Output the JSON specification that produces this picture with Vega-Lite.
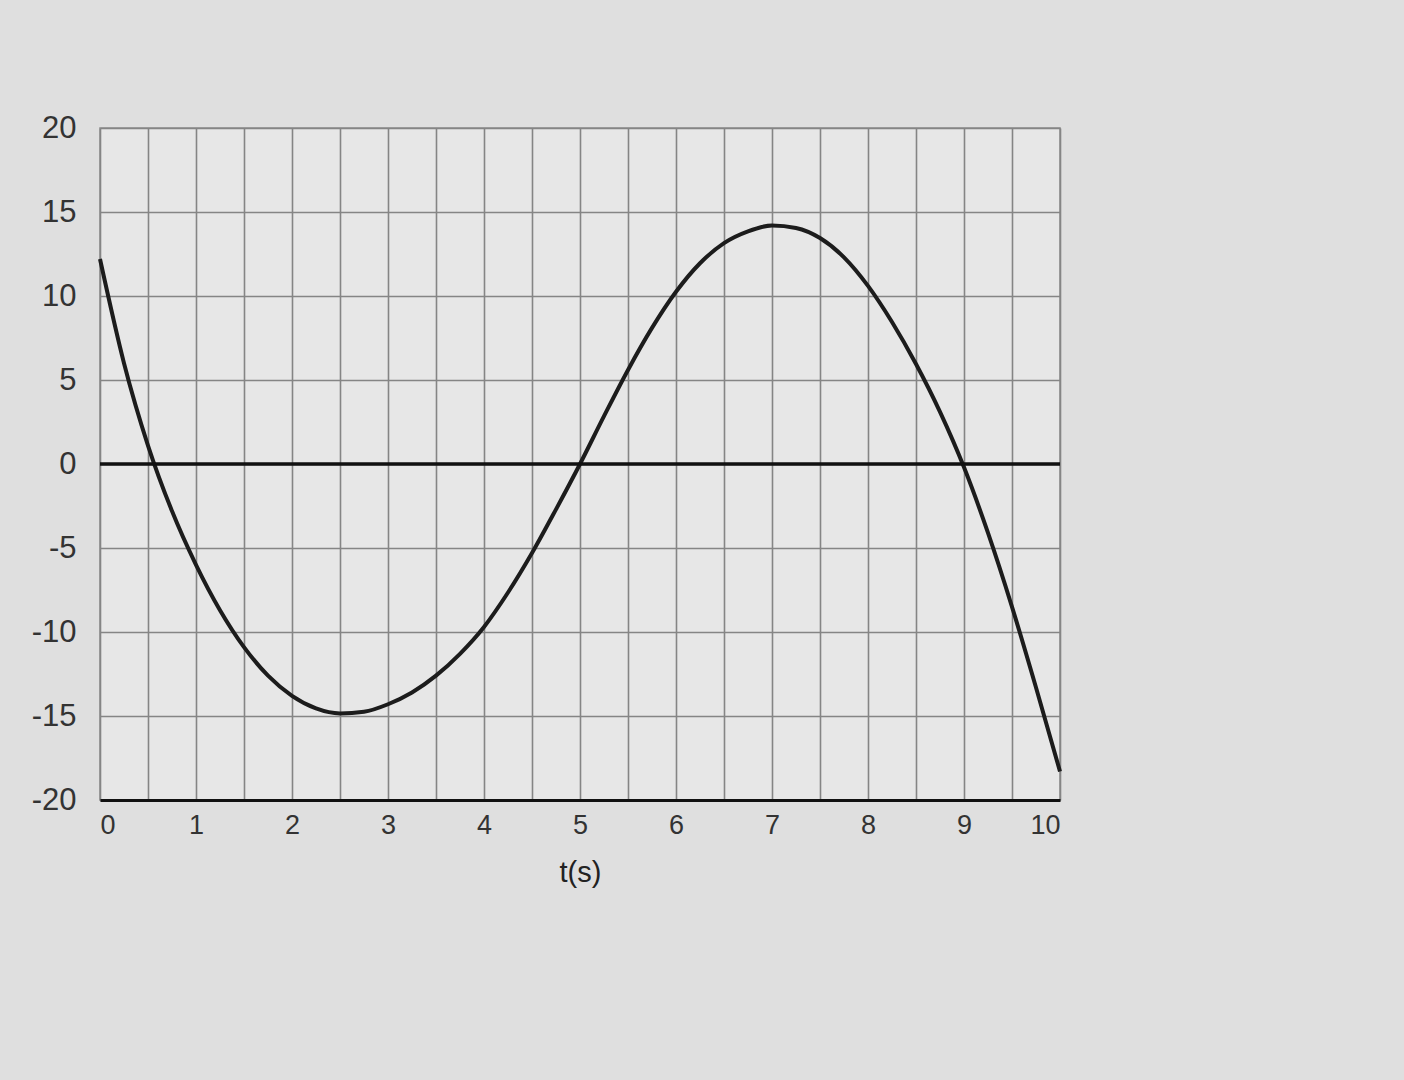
{
  "$schema": "https://vega.github.io/schema/vega-lite/v6.json",
  "autosize": {"type": "none"},
  "width": 960,
  "height": 672,
  "padding": {"left": 100, "top": 128, "right": 344, "bottom": 280},
  "background": "#dfdfdf",
  "config": {
    "view": {"stroke": "#8c8c8c", "strokeWidth": 1.5, "fill": "#e7e7e7"},
    "font": "Liberation Sans"
  },
  "layer": [
    {
      "data": {
        "values": [
          {"t": 0, "y": 12.2}, {"t": 0.25, "y": 6.0}, {"t": 0.5, "y": 1.1}, {"t": 0.75, "y": -2.8},
          {"t": 1.0, "y": -6.0}, {"t": 1.25, "y": -8.7}, {"t": 1.5, "y": -10.9}, {"t": 1.75, "y": -12.6},
          {"t": 2.0, "y": -13.8}, {"t": 2.25, "y": -14.55}, {"t": 2.5, "y": -14.85}, {"t": 2.75, "y": -14.75},
          {"t": 3.0, "y": -14.3}, {"t": 3.25, "y": -13.6}, {"t": 3.5, "y": -12.6}, {"t": 3.75, "y": -11.3},
          {"t": 4.0, "y": -9.7}, {"t": 4.25, "y": -7.65}, {"t": 4.5, "y": -5.3}, {"t": 4.75, "y": -2.7},
          {"t": 5.0, "y": 0}, {"t": 5.25, "y": 2.85}, {"t": 5.5, "y": 5.6}, {"t": 5.75, "y": 8.1},
          {"t": 6.0, "y": 10.25}, {"t": 6.25, "y": 11.95}, {"t": 6.5, "y": 13.15}, {"t": 6.75, "y": 13.85},
          {"t": 7.0, "y": 14.2}, {"t": 7.25, "y": 14.05}, {"t": 7.5, "y": 13.45}, {"t": 7.75, "y": 12.3},
          {"t": 8.0, "y": 10.6}, {"t": 8.25, "y": 8.45}, {"t": 8.5, "y": 5.95}, {"t": 8.75, "y": 3.1},
          {"t": 9.0, "y": -0.2}, {"t": 9.25, "y": -4.1}, {"t": 9.5, "y": -8.5}, {"t": 9.75, "y": -13.3},
          {"t": 10.0, "y": -18.3}
        ]
      },
      "mark": {"type": "line", "interpolate": "monotone", "color": "#1c1c1c", "strokeWidth": 4},
      "encoding": {
        "x": {
          "field": "t", "type": "quantitative",
          "scale": {"domain": [0, 10], "nice": false, "zero": false},
          "axis": {
            "values": [0, 0.5, 1, 1.5, 2, 2.5, 3, 3.5, 4, 4.5, 5, 5.5, 6, 6.5, 7, 7.5, 8, 8.5, 9, 9.5, 10],
            "labelExpr": "datum.value % 1 === 0 ? datum.value + '' : ''",
            "grid": true, "gridColor": "#858585", "gridWidth": 1.6, "gridOpacity": 1,
            "ticks": false,
            "domain": true, "domainColor": "#111111", "domainWidth": 3,
            "labelFontSize": 27, "labelColor": "#333333", "labelPadding": 12,
            "title": "t(s)", "titleFontSize": 29, "titleFontWeight": "normal", "titleColor": "#222222", "titlePadding": 20
          }
        },
        "y": {
          "field": "y", "type": "quantitative",
          "scale": {"domain": [-20, 20], "nice": false, "zero": false},
          "axis": {
            "values": [-20, -15, -10, -5, 0, 5, 10, 15, 20],
            "labelExpr": "datum.value + ''",
            "grid": true, "gridColor": "#858585", "gridWidth": 1.6, "gridOpacity": 1,
            "ticks": false, "domain": false,
            "labelFontSize": 31, "labelColor": "#333333", "labelPadding": 24,
            "title": null
          }
        }
      }
    },
    {
      "data": {"values": [{"zero": 0}]},
      "mark": {"type": "rule", "color": "#111111", "strokeWidth": 3.5},
      "encoding": {
        "y": {"field": "zero", "type": "quantitative"}
      }
    }
  ]
}
